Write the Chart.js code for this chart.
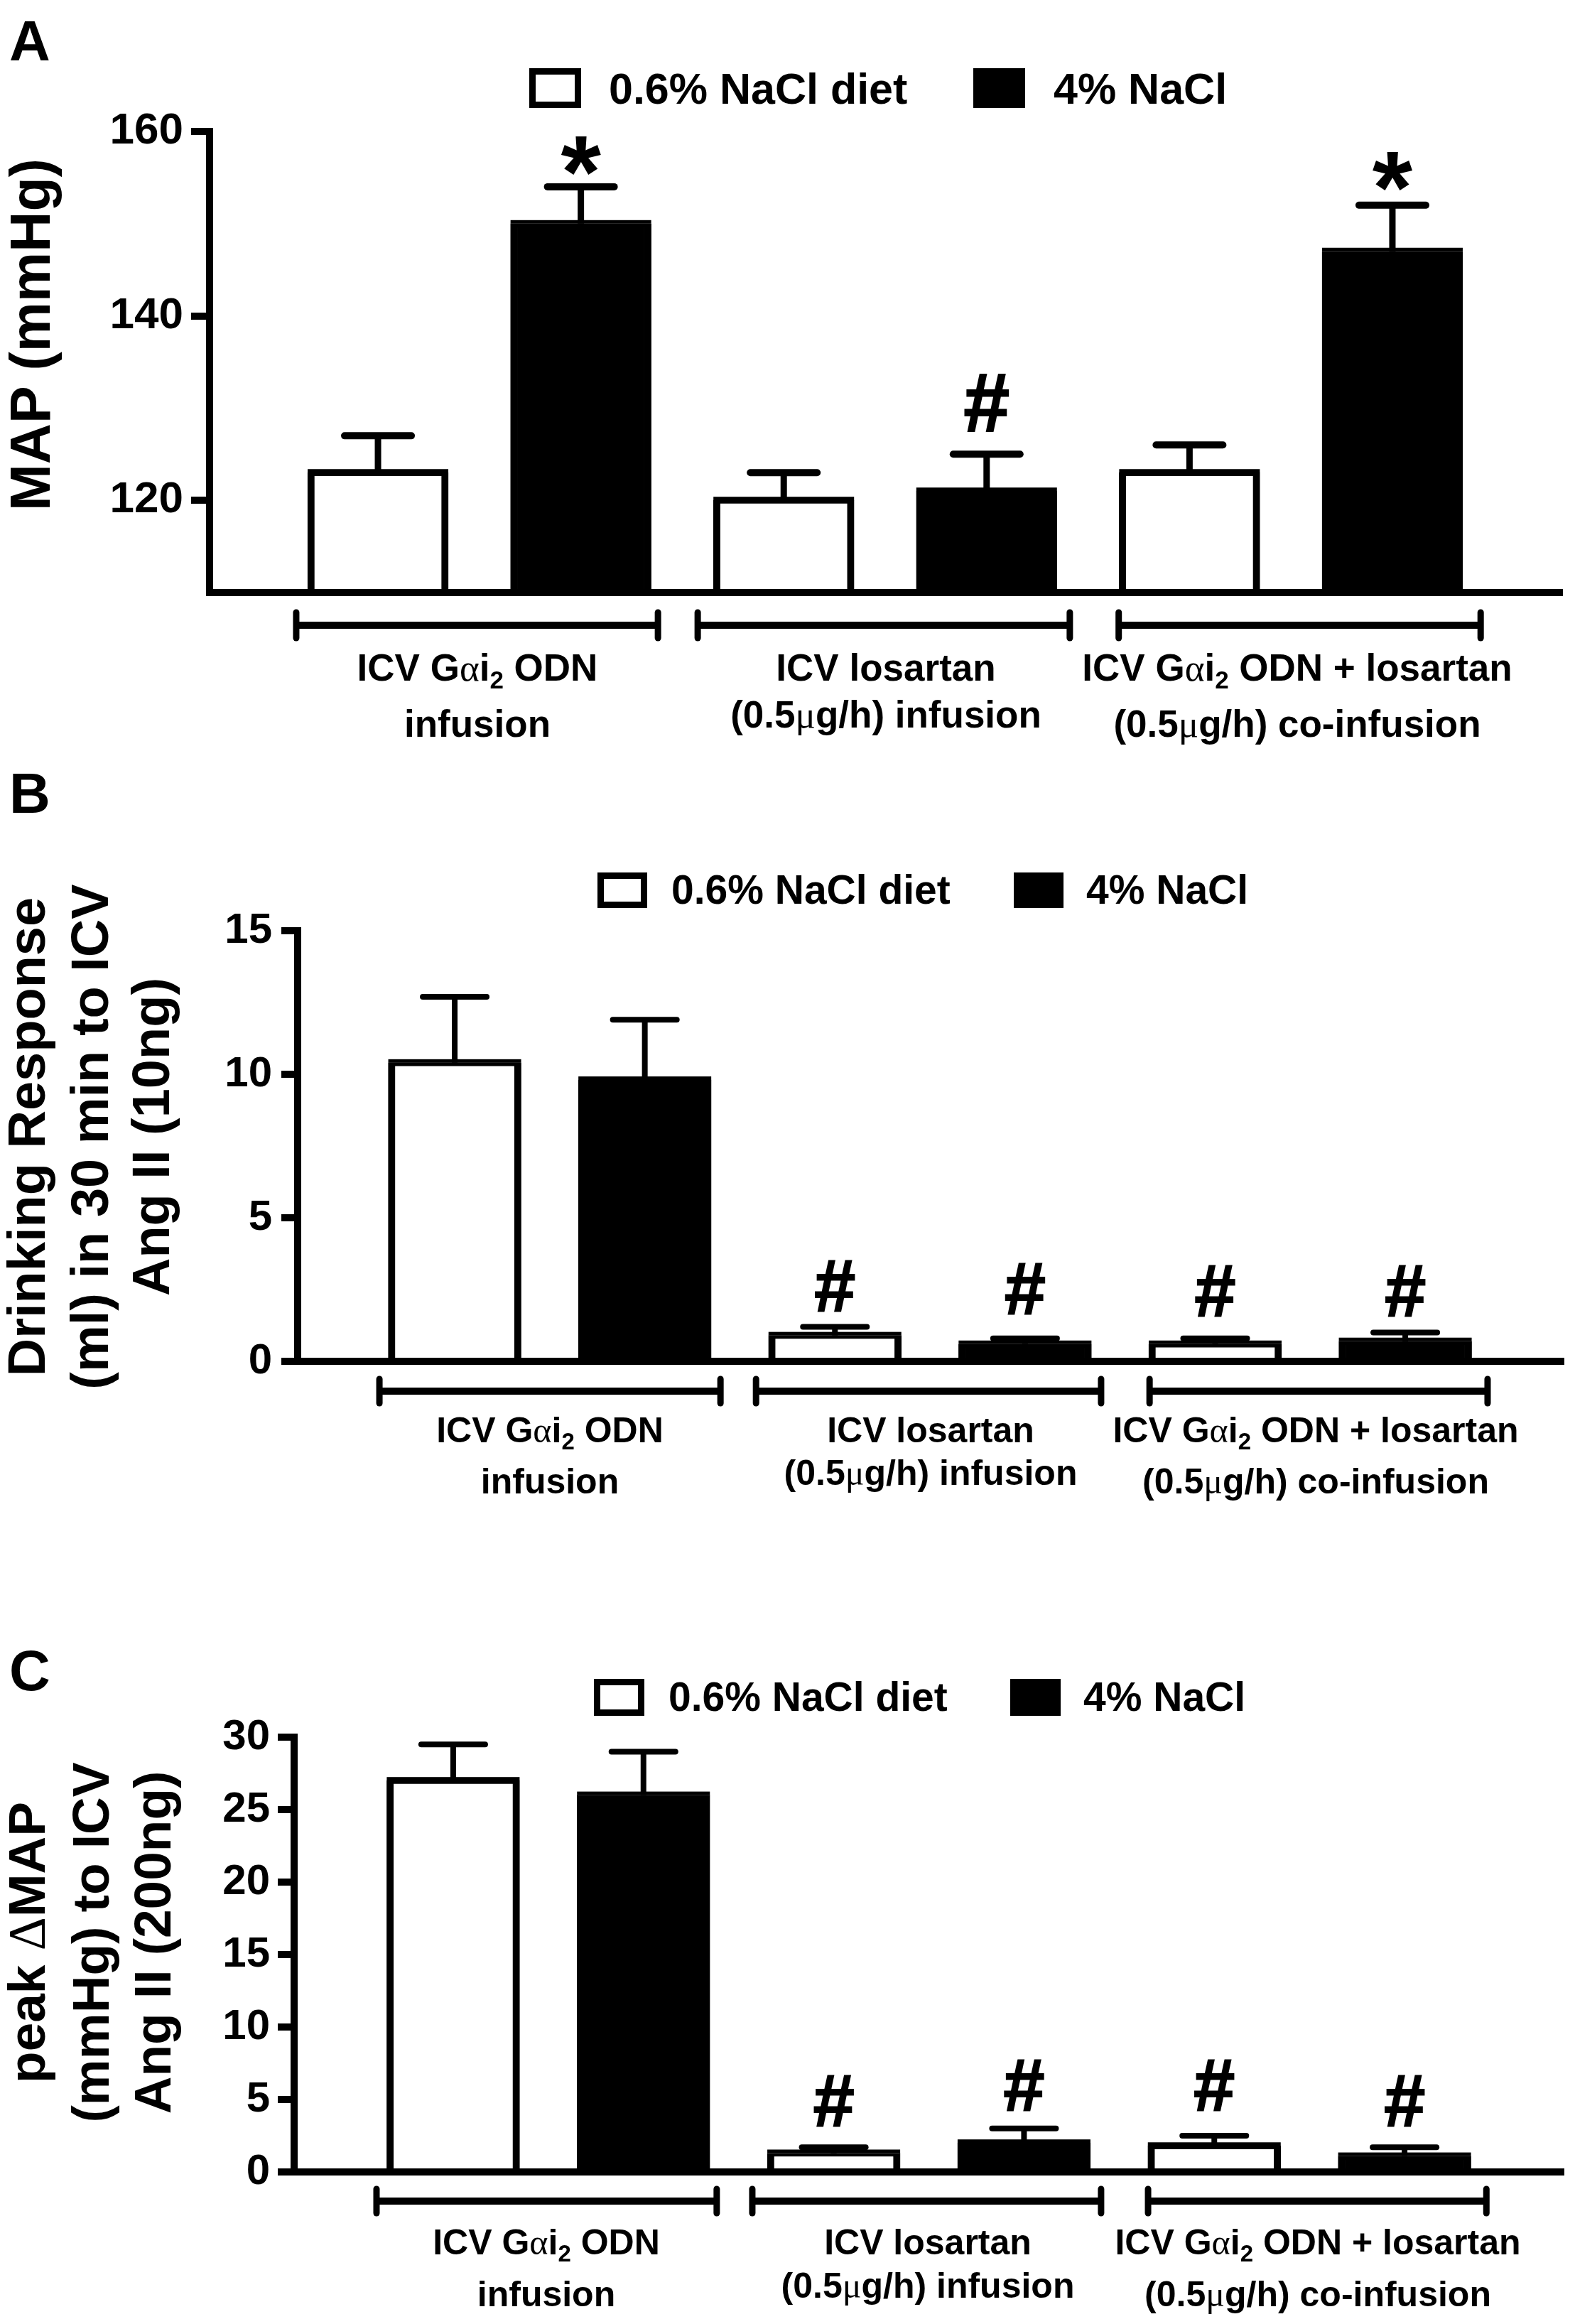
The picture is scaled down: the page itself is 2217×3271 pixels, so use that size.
<!DOCTYPE html>
<html>
<head>
<meta charset="utf-8">
<script src="https://cdn.jsdelivr.net/npm/chart.js@4"></script>
<style>
html, body { margin: 0; padding: 0; background: #fff; width: 2217px; height: 3271px; overflow: hidden; }
canvas { position: absolute; left: 0; }
</style>
</head>
<body>
<canvas id="panelA"></canvas>
<canvas id="panelB"></canvas>
<canvas id="panelC"></canvas>
<script>
// ================= DATA =================
const seriesNames = ["0.6% NaCl diet", "4% NaCl"];

const groupLines = [
    ["ICV Gαi_2 ODN", "infusion"],
    ["ICV losartan", "(0.5μg/h) infusion"],
    ["ICV Gαi_2 ODN + losartan", "(0.5μg/h) co-infusion"]
];

// panel A
const mapLow = [123, 120, 123];
const mapHigh = [150, 121, 147];
const mapLowErr = [4, 3, 3];
const mapHighErr = [4, 4, 5];
const mapTicks = [120, 140, 160];
const mapMarkBars = [1, 3, 5];
const mapMarkText = ["*", "#", "*"];
const mapMarkValues = [157.4, 130.6, 155.7];

// panel B
const drinkLow = [10.4, 0.9, 0.6];
const drinkHigh = [9.8, 0.6, 0.7];
const drinkLowErr = [2.3, 0.3, 0.2];
const drinkHighErr = [2.1, 0.2, 0.3];
const drinkTicks = [0, 5, 10, 15];
const drinkMarkBars = [2, 3, 4, 5];
const drinkMarkText = ["#", "#", "#", "#"];
const drinkMarkValues = [2.62, 2.52, 2.45, 2.45];

// panel C
const peakLow = [27, 1.3, 1.8];
const peakHigh = [26, 2.0, 1.1];
const peakLowErr = [2.5, 0.4, 0.7];
const peakHighErr = [3, 1, 0.6];
const peakTicks = [0, 5, 10, 15, 20, 25, 30];
const peakMarkBars = [2, 3, 4, 5];
const peakMarkText = ["#", "#", "#", "#"];
const peakMarkValues = [4.9, 6.0, 6.0, 4.9];

// ================= TEXT HELPERS =================
const SANS = '"Liberation Sans", Arial, sans-serif';
const SERIF = '"Liberation Serif", serif';

// splits "ICV Gαi_2 ODN" in runs so greek and subscript get their own font
function textRuns(str) {
    return str.split(/([αμΔ]|_2)/).filter(s => s !== "").map(s => {
        if (s === "_2") return { text: "2", kind: "sub" };
        if (/[αμΔ]/.test(s)) return { text: s, kind: "greek" };
        return { text: s, kind: "plain" };
    });
}

function runFont(run, size) {
    if (run.kind === "greek") return `${size}px ${SERIF}`;
    if (run.kind === "sub") return `bold ${Math.round(size * 0.66)}px ${SANS}`;
    return `bold ${size}px ${SANS}`;
}

// draws centred on x with the baseline on y
function drawRuns(ctx, str, x, y, size) {
    const runs = textRuns(str);
    let total = 0;
    runs.forEach(r => {
        ctx.font = runFont(r, size);
        r.w = ctx.measureText(r.text).width;
        total += r.w;
    });
    let cx = x - total / 2;
    ctx.textAlign = "left";
    ctx.textBaseline = "alphabetic";
    runs.forEach(r => {
        ctx.font = runFont(r, size);
        ctx.fillText(r.text, cx, r.kind === "sub" ? y + size * 0.2 : y);
        cx += r.w;
    });
}

// ================= PLUGIN =================
const figurePlugin = {
    id: "figure",
    afterDatasetsDraw(chart, args, opts) {
        const { ctx } = chart;
        const x = chart.scales.x;
        const y = chart.scales.y;
        const p = opts.panel;

        ctx.save();
        ctx.fillStyle = "#000";
        ctx.strokeStyle = "#000";

        // the outline of a bar is centred on its value, so half of it sits above
        chart.data.datasets.forEach((ds, d) => {
            chart.getDatasetMeta(d).data.forEach(bar => {
                ctx.fillRect(bar.x - bar.width / 2, bar.y - 5, bar.width, 5);
            });
        });

        // error bars
        chart.data.datasets.forEach(ds => {
            ds.data.forEach((pt, i) => {
                const px = x.getPixelForValue(pt.x);
                const top = y.getPixelForValue(pt.y + ds.errors[i]);
                ctx.lineWidth = p.stemWidth;
                ctx.beginPath();
                ctx.moveTo(px, y.getPixelForValue(pt.y));
                ctx.lineTo(px, top);
                ctx.stroke();
                ctx.lineWidth = p.capWidth;
                ctx.lineCap = "round";
                ctx.beginPath();
                ctx.moveTo(px - p.capLength / 2 + p.capWidth / 2, top);
                ctx.lineTo(px + p.capLength / 2 - p.capWidth / 2, top);
                ctx.stroke();
                ctx.lineCap = "butt";
            });
        });

        // significance marks, centred on the glyph itself
        p.marks.bars.forEach((bar, i) => {
            const text = p.marks.text[i];
            ctx.font = `bold ${text === "*" ? p.starSize : p.hashSize}px ${SANS}`;
            ctx.textAlign = "center";
            ctx.textBaseline = "alphabetic";
            const m = ctx.measureText(text);
            const mid = (m.actualBoundingBoxAscent - m.actualBoundingBoxDescent) / 2;
            const px = x.getPixelForValue(bar);
            const py = y.getPixelForValue(p.marks.values[i]) + mid;
            ctx.fillText(text, px, py);
            if (text === "#") {
                ctx.lineWidth = 2;
                ctx.strokeText(text, px, py);
            }
        });

        // everything below here is placed in page pixels
        ctx.translate(0, -p.top);

        // panel letter
        ctx.font = `bold 80px ${SANS}`;
        ctx.textAlign = "left";
        ctx.textBaseline = "alphabetic";
        ctx.fillText(p.letter, 13, p.letterY);

        // legend
        chart.data.datasets.forEach((ds, i) => {
            const b = p.legendBoxes[i];
            ctx.fillStyle = "#000";
            ctx.fillRect(b, p.legendTop, p.legendBoxW, p.legendBoxH);
            if (ds.backgroundColor !== "#000") {
                ctx.fillStyle = ds.backgroundColor;
                ctx.fillRect(b + 9, p.legendTop + 9, p.legendBoxW - 18, p.legendBoxH - 18);
            }
            ctx.fillStyle = "#000";
            ctx.font = `bold ${p.legendSize}px ${SANS}`;
            ctx.textAlign = "left";
            ctx.fillText(ds.label, p.legendText[i], p.legendBase);
        });

        // group brackets and their captions
        p.brackets.forEach((br, g) => {
            const l = x.getPixelForValue(br[0]);
            const r = x.getPixelForValue(br[1]);
            ctx.lineWidth = 10;
            ctx.beginPath();
            ctx.moveTo(l, p.bracketY);
            ctx.lineTo(r, p.bracketY);
            ctx.stroke();
            ctx.lineWidth = 9;
            ctx.lineCap = "round";
            [l, r].forEach(e => {
                ctx.beginPath();
                ctx.moveTo(e, p.bracketY - p.bracketCap);
                ctx.lineTo(e, p.bracketY + p.bracketCap);
                ctx.stroke();
            });
            ctx.lineCap = "butt";
            groupLines[g].forEach((line, n) => {
                drawRuns(ctx, line, p.captionX[g], p.captionY[g][n], p.captionSize);
            });
        });

        // rotated y title
        p.titleLines.forEach((line, n) => {
            ctx.save();
            ctx.translate(p.titleX[n], p.titleMid);
            ctx.rotate(-Math.PI / 2);
            drawRuns(ctx, line, 0, 0, p.titleSize);
            ctx.restore();
        });

        ctx.restore();
    }
};

// ================= CHART =================
function buildPanel(id, p, low, high, lowErr, highErr, ticks) {
    const canvas = document.getElementById(id);
    canvas.width = 2217;
    canvas.height = p.height;
    canvas.style.top = p.top + "px";

    return new Chart(canvas, {
        type: "bar",
        plugins: [figurePlugin],
        data: {
            datasets: [
                {
                    label: seriesNames[0],
                    data: low.map((v, i) => ({ x: i * 2, y: v })),
                    errors: lowErr,
                    backgroundColor: "#fff"
                },
                {
                    label: seriesNames[1],
                    data: high.map((v, i) => ({ x: i * 2 + 1, y: v })),
                    errors: highErr,
                    backgroundColor: "#000"
                }
            ]
        },
        options: {
            responsive: false,
            animation: false,
            devicePixelRatio: 1,
            layout: { padding: { top: p.plotTop - p.top, right: 2217 - p.plotRight, left: 0, bottom: 0 } },
            datasets: {
                bar: {
                    grouped: false,
                    barThickness: p.barWidth,
                    borderColor: "#000",
                    borderWidth: { top: 5, left: 10, right: 10, bottom: 0 }
                }
            },
            plugins: {
                legend: { display: false },
                tooltip: { enabled: false },
                figure: { panel: p }
            },
            scales: {
                x: {
                    type: "linear",
                    offset: false,
                    min: -p.slotLeft,
                    max: 5 + p.slotRight,
                    grid: { display: false },
                    border: { color: "#000", width: 10, z: 2 },
                    ticks: { display: false },
                    afterFit: s => { s.height = p.top + p.height - p.plotBottom; }
                },
                y: {
                    min: p.yMin,
                    max: p.yMax,
                    afterBuildTicks: s => { s.ticks = ticks.map(v => ({ value: v })); },
                    grid: { drawOnChartArea: false, color: "#000", lineWidth: 10, tickLength: p.tickLength },
                    border: { color: "#000", width: 10, z: 2 },
                    ticks: {
                        color: "#000",
                        padding: p.tickPad,
                        autoSkip: false,
                        font: { family: SANS, weight: "bold", size: p.tickSize }
                    },
                    afterFit: s => { s.width = p.plotLeft; }
                }
            }
        }
    });
}

buildPanel("panelA", {
    letter: "A", letterY: 85,
    top: 0, height: 1085,
    plotLeft: 295, plotTop: 185, plotBottom: 834, plotRight: 2199,
    yMin: 110, yMax: 160, tickSize: 62, tickLength: 26, tickPad: 11,
    slotLeft: 0.83, slotRight: 0.837, barWidth: 198,
    stemWidth: 9, capWidth: 10, capLength: 104,
    hashSize: 116, starSize: 145,
    marks: { bars: mapMarkBars, text: mapMarkText, values: mapMarkValues },
    legendBoxes: [745, 1370], legendText: [857, 1483], legendTop: 96, legendBoxW: 73, legendBoxH: 56,
    legendBase: 146, legendSize: 61,
    brackets: [[-0.403, 1.38], [1.576, 3.41], [3.651, 5.435]], bracketY: 880, bracketCap: 18,
    captionX: [672, 1247, 1826],
    captionY: [[958, 1037], [958, 1024], [958, 1037]], captionSize: 53,
    titleLines: ["MAP (mmHg)"], titleX: [70], titleMid: 471, titleSize: 79
}, mapLow, mapHigh, mapLowErr, mapHighErr, mapTicks);

buildPanel("panelB", {
    letter: "B", letterY: 1144,
    top: 1085, height: 1135,
    plotLeft: 419, plotTop: 1310, plotBottom: 1916, plotRight: 2201,
    yMin: 0, yMax: 15, tickSize: 60, tickLength: 23, tickPad: 13,
    slotLeft: 0.826, slotRight: 0.833, barWidth: 187,
    stemWidth: 8, capWidth: 8, capLength: 98,
    hashSize: 104, starSize: 130,
    marks: { bars: drinkMarkBars, text: drinkMarkText, values: drinkMarkValues },
    legendBoxes: [841, 1427], legendText: [945, 1529], legendTop: 1228, legendBoxW: 70, legendBoxH: 50,
    legendBase: 1272, legendSize: 57,
    brackets: [[-0.396, 1.398], [1.585, 3.4], [3.655, 5.433]], bracketY: 1958, bracketCap: 17,
    captionX: [774, 1310, 1852],
    captionY: [[2030, 2102], [2030, 2090], [2030, 2102]], captionSize: 50,
    titleLines: ["Drinking Response", "(ml) in 30 min to ICV", "Ang II (10ng)"],
    titleX: [63, 152, 238], titleMid: 1600, titleSize: 74
}, drinkLow, drinkHigh, drinkLowErr, drinkHighErr, drinkTicks);

buildPanel("panelC", {
    letter: "C", letterY: 2379,
    top: 2220, height: 1051,
    plotLeft: 414, plotTop: 2445, plotBottom: 3057, plotRight: 2201,
    yMin: 0, yMax: 30, tickSize: 60, tickLength: 23, tickPad: 11,
    slotLeft: 0.836, slotRight: 0.836, barWidth: 187,
    stemWidth: 8, capWidth: 8, capLength: 98,
    hashSize: 104, starSize: 130,
    marks: { bars: peakMarkBars, text: peakMarkText, values: peakMarkValues },
    legendBoxes: [836, 1422], legendText: [941, 1525], legendTop: 2363, legendBoxW: 71, legendBoxH: 52,
    legendBase: 2408, legendSize: 57,
    brackets: [[-0.403, 1.385], [1.572, 3.405], [3.652, 5.43]], bracketY: 3098, bracketCap: 17,
    captionX: [769, 1306, 1855],
    captionY: [[3173, 3246], [3173, 3234], [3173, 3246]], captionSize: 50,
    titleLines: ["peak ΔMAP", "(mmHg) to ICV", "Ang II (200ng)"],
    titleX: [63, 153, 240], titleMid: 2734, titleSize: 73
}, peakLow, peakHigh, peakLowErr, peakHighErr, peakTicks);
</script>
</body>
</html>
